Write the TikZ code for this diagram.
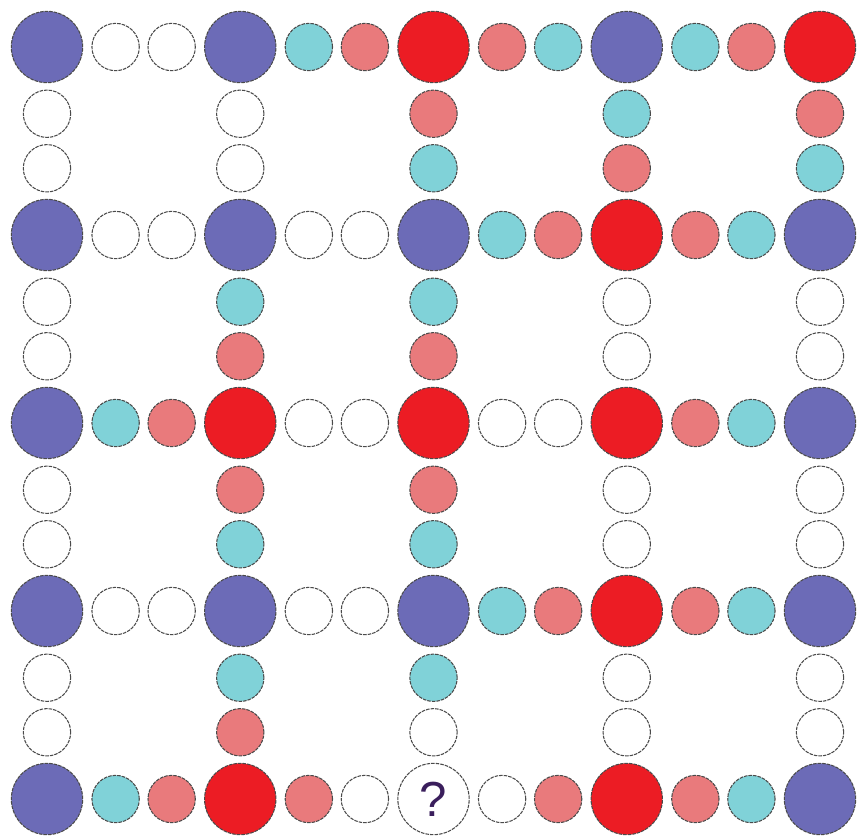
\documentclass[tikz,border=0pt]{standalone}
\usepackage{fontspec}
\setsansfont{Liberation Sans}
\usepackage{tikz}
\usetikzlibrary{calc}
\definecolor{pzViolet}{HTML}{6C6BB7}
\definecolor{pzRed}{HTML}{EC1C24}
\definecolor{pzPink}{HTML}{E97A7C}
\definecolor{pzCyan}{HTML}{80D2D8}
\definecolor{pzRim}{HTML}{4A4A4A}
\definecolor{pzInk}{HTML}{3A1E5C}

\begin{document}
\begin{tikzpicture}[
  x=0.03cm,y=-0.03cm,
  rim/.style={circle,draw=pzRim,line width=0.9pt,dash pattern=on 3pt off 0.9pt,inner sep=0pt},
  big/.style={rim,minimum size=2.14cm},
  small/.style={rim,minimum size=1.42cm},
  quest/.style={big,fill=white,text=pzInk,font=\sffamily\fontsize{42}{42}\selectfont}
]
  \useasboundingbox (0,0) rectangle (866,836);
  % big circles
  \foreach \r/\c/\col in {1/1/pzViolet,1/2/pzViolet,1/3/pzRed,1/4/pzViolet,1/5/pzRed,
                          2/1/pzViolet,2/2/pzViolet,2/3/pzViolet,2/4/pzRed,2/5/pzViolet,
                          3/1/pzViolet,3/2/pzRed,3/3/pzRed,3/4/pzRed,3/5/pzViolet,
                          4/1/pzViolet,4/2/pzViolet,4/3/pzViolet,4/4/pzRed,4/5/pzViolet,
                          5/1/pzViolet,5/2/pzRed,5/4/pzRed,5/5/pzViolet}
    \node[big,fill=\col] (n-\r-\c) at ({47+193.25*(\c-1)},{47+188*(\r-1)}) {};
  \node[quest] (n-5-3) at (433.5,799) {?};
  % small circles along the rows
  \foreach \r/\c/\a/\b in {1/1/white/white,1/2/pzCyan/pzPink,1/3/pzPink/pzCyan,1/4/pzCyan/pzPink,
                           2/1/white/white,2/2/white/white,2/3/pzCyan/pzPink,2/4/pzPink/pzCyan,
                           3/1/pzCyan/pzPink,3/2/white/white,3/3/white/white,3/4/pzPink/pzCyan,
                           4/1/white/white,4/2/white/white,4/3/pzCyan/pzPink,4/4/pzPink/pzCyan,
                           5/1/pzCyan/pzPink,5/2/pzPink/white,5/3/white/pzPink,5/4/pzPink/pzCyan}{
    \pgfmathtruncatemacro{\d}{\c+1}
    \node[small,fill=\a] (h-\r-\c-1) at ($(n-\r-\c)!0.355!(n-\r-\d)$) {};
    \node[small,fill=\b] (h-\r-\c-2) at ($(n-\r-\c)!0.645!(n-\r-\d)$) {};
  }
  % small circles along the columns
  \foreach \c/\r/\a/\b in {1/1/white/white,1/2/white/white,1/3/white/white,1/4/white/white,
                           2/1/white/white,2/2/pzCyan/pzPink,2/3/pzPink/pzCyan,2/4/pzCyan/pzPink,
                           3/1/pzPink/pzCyan,3/2/pzCyan/pzPink,3/3/pzPink/pzCyan,3/4/pzCyan/white,
                           4/1/pzCyan/pzPink,4/2/white/white,4/3/white/white,4/4/white/white,
                           5/1/pzPink/pzCyan,5/2/white/white,5/3/white/white,5/4/white/white}{
    \pgfmathtruncatemacro{\d}{\r+1}
    \node[small,fill=\a] (v-\r-\c-1) at ($(n-\r-\c)!0.355!(n-\d-\c)$) {};
    \node[small,fill=\b] (v-\r-\c-2) at ($(n-\r-\c)!0.645!(n-\d-\c)$) {};
  }
\end{tikzpicture}
\end{document}
